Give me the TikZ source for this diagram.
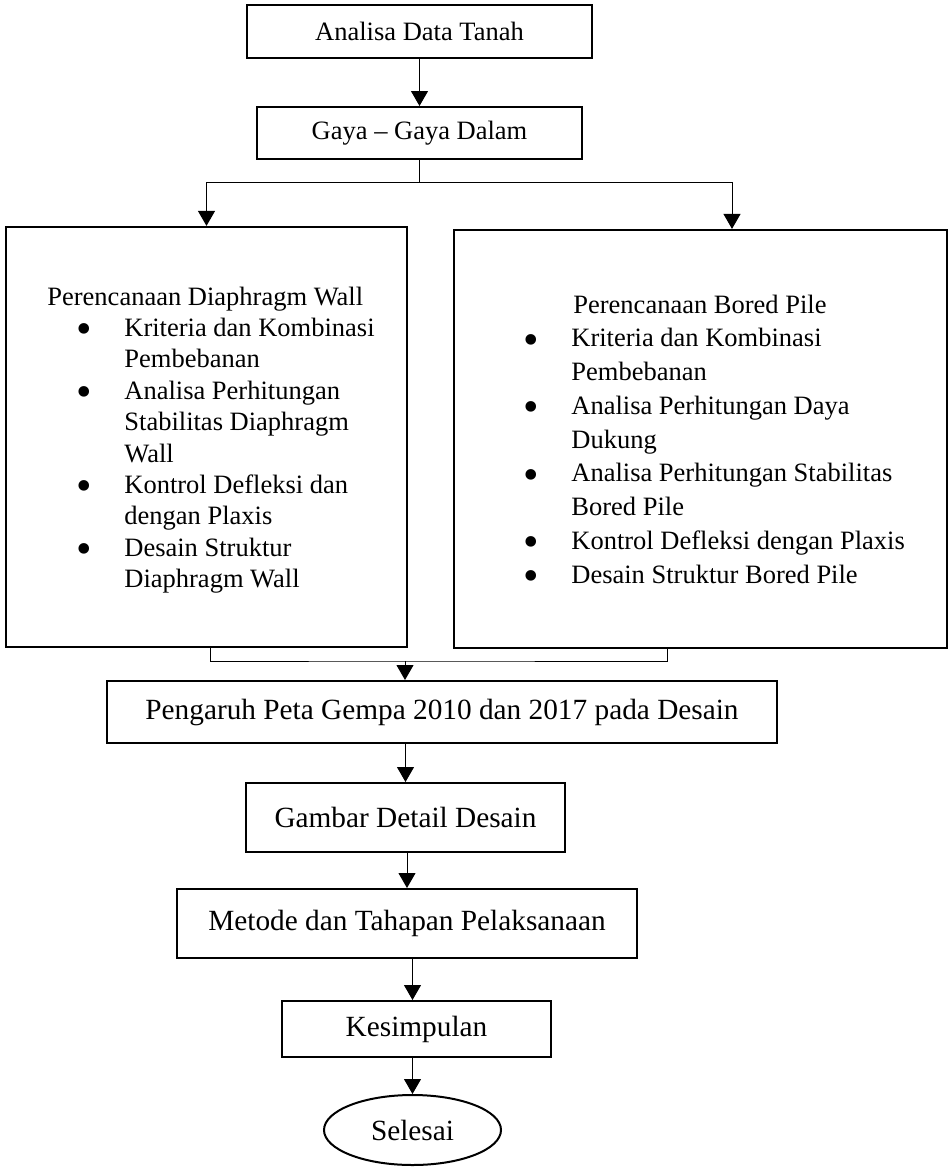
\documentclass[tikz,border=0pt]{standalone}
\usepackage{fontspec}
\usepackage{graphicx}
\setmainfont{Liberation Serif}
\usetikzlibrary{arrows.meta, shapes.geometric}

\newcommand{\itm}{\makebox[24pt][l]{\raisebox{-3.7pt}{\scalebox{1.67}{\textbullet}}}}
\newcommand{\cont}{\hspace*{24pt}}

\begin{document}
\begin{tikzpicture}[
    x=0.5pt, y=-0.5pt,
    smallbox/.style={rectangle, draw=black, line width=1pt, align=center, font=\fontsize{13.25}{15.7}\selectfont},
    stepbox/.style={rectangle, draw=black, line width=1pt, align=center, font=\fontsize{14.65}{17}\selectfont},
    panel/.style={rectangle, draw=black, line width=1.1pt},
    listtext/.style={anchor=base west, inner sep=0pt},
    endnode/.style={ellipse, draw=black, line width=1pt, font=\fontsize{14.65}{17}\selectfont},
    arrow/.style={-{Triangle[width=8.5pt,length=7.5pt]}, line width=0.5pt},
    link/.style={line width=0.5pt}
]
\useasboundingbox (0,0) rectangle (951,1167);

% Top: soil data and internal forces
\node[smallbox, minimum width=172.5pt, minimum height=26.5pt] (tanah) at (419.5,31.5) {Analisa Data Tanah};
\node[smallbox, minimum width=162.5pt, minimum height=26pt] (gaya) at (419.5,133) {Gaya -- Gaya Dalam};

% Middle: two design panels
\node[panel, minimum width=200.5pt, minimum height=210pt] (dwall) at (206.5,437) {};
\node[panel, minimum width=246.5pt, minimum height=209pt] (bpile) at (700.5,439) {};

\node[listtext, font=\fontsize{13.25}{15.7}\selectfont] (dwalltext) at (76,305) {%
\begin{tabular}[t]{@{}l@{}}
\hspace*{-14.5pt}Perencanaan Diaphragm Wall\\
\itm Kriteria dan Kombinasi\\
\cont Pembebanan\\
\itm Analisa Perhitungan\\
\cont Stabilitas Diaphragm\\
\cont Wall\\
\itm Kontrol Defleksi dan\\
\cont dengan Plaxis\\
\itm Desain Struktur\\
\cont Diaphragm Wall
\end{tabular}};

\node[listtext, font=\fontsize{13.25}{16.875}\selectfont] (bpiletext) at (523,313) {%
\begin{tabular}[t]{@{}l@{}}
\hspace*{25pt}Perencanaan Bored Pile\\
\itm Kriteria dan Kombinasi\\
\cont Pembebanan\\
\itm Analisa Perhitungan Daya\\
\cont Dukung\\
\itm Analisa Perhitungan Stabilitas\\
\cont Bored Pile\\
\itm Kontrol Defleksi dengan Plaxis\\
\itm Desain Struktur Bored Pile
\end{tabular}};

% Bottom: chain of steps
\node[stepbox, minimum width=335pt, minimum height=31pt] (gempa) at (442,712) {Pengaruh Peta Gempa 2010 dan 2017 pada Desain};
\node[stepbox, minimum width=159.5pt, minimum height=34.5pt] (gambar) at (405.5,817.5) {Gambar Detail Desain};
\node[stepbox, minimum width=230pt, minimum height=34.5pt] (metode) at (407,923.5) {Metode dan Tahapan Pelaksanaan};
\node[stepbox, minimum width=134.5pt, minimum height=28pt] (simpulan) at (416.5,1029) {Kesimpulan};
\node[endnode, minimum width=88.5pt, minimum height=35pt] (selesai) at (412.5,1130) {Selesai};

% Connectors
\coordinate (fork) at (419.5,182);
\coordinate (join) at (405,661);

\draw[arrow] (tanah) -- (gaya);
\draw[link] (gaya) -- (fork);
\draw[arrow] (fork) -| (dwall.north);
\draw[arrow] (fork) -| ([xshift=15.75pt]bpile.north);

\draw[link] ([xshift=1.75pt]dwall.south) |- (join) -| ([xshift=-16.75pt]bpile.south);
\draw[arrow] (join) -- (join |- gempa.north);

\draw[arrow] (gambar.north |- gempa.south) -- (gambar.north);
\draw[arrow] (metode.north |- gambar.south) -- (metode.north);
\draw[arrow] (selesai.north |- metode.south) -- (selesai.north |- simpulan.north);
\draw[arrow] (selesai.north |- simpulan.south) -- (selesai.north);

\end{tikzpicture}
\end{document}
